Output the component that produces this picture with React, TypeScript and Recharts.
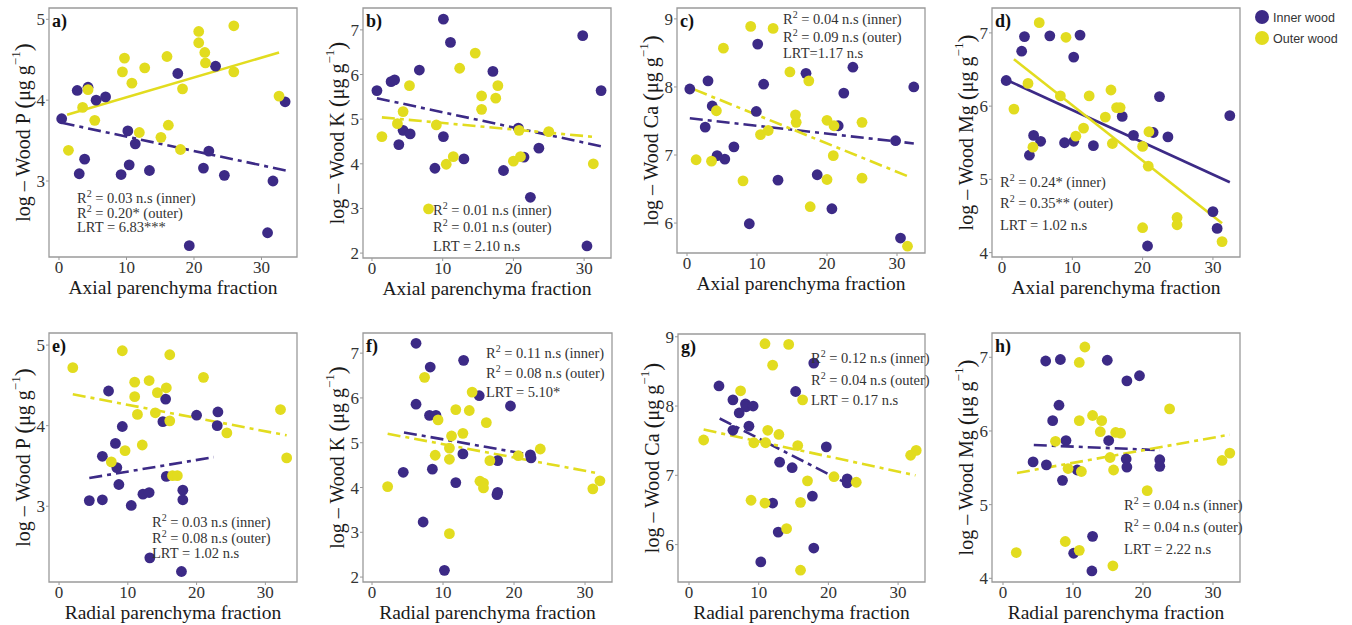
import React from 'react';
import { ScatterChart, Scatter, XAxis, YAxis, ReferenceLine, ReferenceArea } from 'recharts';

const INNER = '#3c2a86';
const OUTER = '#e2dc1f';
const SERIF = '"Liberation Serif", "Times New Roman", serif';
const SANS = '"Liberation Sans", Arial, sans-serif';
const DASHDOT = '13 5 4 5';

type Pair = [number, number];

// ---- axial parenchyma (top row) ----
const axialInnerP: Pair[] = [[0.4,3.77],[2.7,4.12],[4.3,4.16],[5.5,4.0],[6.9,4.04],[3.0,3.09],[3.8,3.27],[9.2,3.08],[10.4,3.2],[10.2,3.62],[11.3,3.46],[13.4,3.13],[17.6,4.33],[19.3,2.2],[21.4,3.16],[22.2,3.37],[23.2,4.42],[24.5,3.07],[30.9,2.36],[31.7,3.0],[33.5,3.98]];
const axialOuterP: Pair[] = [[1.4,3.38],[3.5,3.91],[4.3,4.13],[5.3,3.75],[9.7,4.52],[9.4,4.35],[10.8,4.21],[12.7,4.4],[11.9,3.6],[15.1,3.54],[16.2,3.69],[16.0,4.54],[18.3,4.14],[18.0,3.39],[20.7,4.85],[20.7,4.71],[21.6,4.59],[21.7,4.46],[25.9,4.92],[25.9,4.35],[32.6,4.05]];
const axialInnerPFit: Pair[] = [[0.4,3.72],[33.6,3.13]];
const axialOuterPFit: Pair[] = [[1.2,3.82],[32.6,4.59]];

const axialInnerK: Pair[] = [[0.7,5.64],[2.7,5.84],[3.2,5.88],[3.8,4.43],[4.4,4.75],[5.4,4.67],[6.7,6.1],[8.9,3.9],[10.1,4.61],[10.1,7.24],[11.1,6.72],[13.0,4.11],[17.1,6.07],[18.6,3.85],[20.7,4.8],[21.5,4.15],[22.4,3.25],[23.6,4.35],[29.8,6.87],[30.4,2.16],[32.4,5.64]];
const axialOuterK: Pair[] = [[1.4,4.61],[3.6,4.9],[4.4,5.17],[5.3,5.75],[9.1,4.87],[8.0,2.99],[10.5,3.99],[11.5,4.16],[12.4,6.14],[14.6,6.48],[15.5,5.52],[15.5,5.22],[17.5,5.47],[17.8,5.75],[20.0,4.06],[21.0,4.16],[20.8,4.75],[25.0,4.72],[31.3,4.0]];
const axialInnerKFit: Pair[] = [[0.7,5.47],[32.5,4.39]];
const axialOuterKFit: Pair[] = [[1.4,5.04],[31.6,4.6]];

const axialInnerCa: Pair[] = [[0.4,7.97],[3.0,8.09],[2.6,7.41],[3.6,7.72],[4.3,6.99],[5.4,6.94],[6.7,7.12],[8.9,5.99],[9.9,7.64],[10.1,8.63],[10.95,8.04],[13.0,6.63],[17.0,8.2],[18.6,6.71],[20.7,6.21],[21.6,7.43],[22.4,7.91],[23.7,8.29],[29.8,7.21],[30.5,5.78],[32.4,8.0]];
const axialOuterCa: Pair[] = [[1.3,6.93],[3.5,6.91],[4.2,7.65],[5.2,8.57],[8.0,6.62],[9.1,8.89],[12.3,8.86],[10.5,7.3],[11.6,7.36],[14.7,8.22],[15.5,7.59],[15.6,7.48],[17.4,8.09],[17.6,6.24],[20.0,7.51],[20.0,6.64],[20.9,6.99],[21.0,7.43],[25.0,7.48],[25.0,6.66],[31.5,5.66]];
const axialInnerCaFit: Pair[] = [[0.4,7.54],[32.4,7.17]];
const axialOuterCaFit: Pair[] = [[1.1,7.96],[31.5,6.69]];

const axialInnerMg: Pair[] = [[0.6,6.35],[2.8,6.75],[3.2,6.95],[3.9,5.33],[4.5,5.6],[5.5,5.52],[6.8,6.96],[8.9,5.5],[10.2,5.52],[10.2,6.67],[11.1,6.97],[13.0,5.46],[17.1,5.86],[18.7,5.6],[22.4,6.13],[21.5,5.64],[23.6,5.58],[20.7,4.09],[30.0,4.56],[30.6,4.33],[32.4,5.87]];
const axialOuterMg: Pair[] = [[1.7,5.96],[3.7,6.31],[4.4,5.44],[5.3,7.14],[8.3,6.14],[9.1,6.94],[10.5,5.59],[11.6,5.7],[12.4,6.14],[14.7,5.85],[15.5,6.22],[15.7,5.49],[16.3,5.98],[16.8,5.98],[20.0,5.45],[20.9,5.65],[20.8,5.18],[20.0,4.34],[24.9,4.48],[24.9,4.38],[31.3,4.15]];
const axialInnerMgFit: Pair[] = [[0.6,6.36],[32.4,4.96]];
const axialOuterMgFit: Pair[] = [[1.7,6.64],[31.3,4.4]];

// ---- radial parenchyma (bottom row) ----
const radialInnerP: Pair[] = [[4.4,3.07],[6.3,3.08],[6.3,3.62],[7.2,4.43],[8.2,3.78],[8.4,3.48],[8.7,3.27],[9.2,3.99],[10.5,3.01],[12.2,3.15],[13.1,3.17],[13.2,2.36],[15.1,4.05],[15.5,4.33],[15.6,3.37],[18.0,3.2],[18.0,3.08],[17.8,2.19],[20.0,4.13],[23.1,4.17],[23.0,4.0]];
const radialOuterP: Pair[] = [[2.0,4.72],[7.6,3.55],[9.2,4.93],[9.6,3.69],[11.0,4.54],[11.0,4.36],[11.4,4.14],[12.1,3.76],[13.1,4.56],[14.3,4.41],[14.0,4.16],[15.6,4.47],[16.1,4.88],[16.1,4.06],[16.5,3.38],[17.2,3.38],[21.0,4.6],[24.4,3.91],[32.2,4.2],[33.1,3.6]];
const radialInnerPFit: Pair[] = [[4.4,3.35],[22.5,3.61]];
const radialOuterPFit: Pair[] = [[2.0,4.39],[33.1,3.88]];

const radialInnerK: Pair[] = [[4.4,4.34],[6.2,7.22],[6.2,5.86],[7.2,3.23],[8.2,6.69],[8.1,5.61],[9.0,5.61],[8.5,4.41],[10.2,2.15],[11.8,4.11],[12.8,4.75],[12.9,6.84],[15.1,6.05],[17.6,3.84],[17.7,3.89],[17.7,4.6],[19.5,5.82],[22.3,4.73],[22.4,4.66]];
const radialOuterK: Pair[] = [[2.2,4.02],[7.4,6.46],[8.9,4.72],[9.3,5.51],[10.9,4.63],[10.9,4.88],[10.9,2.97],[11.2,5.15],[11.8,5.74],[12.8,5.21],[13.7,5.72],[14.1,6.13],[15.2,4.14],[15.7,4.1],[15.7,3.99],[16.1,5.45],[16.6,4.6],[20.6,4.71],[23.7,4.86],[31.1,3.97],[32.1,4.15]];
const radialInnerKFit: Pair[] = [[4.5,5.23],[22.3,4.73]];
const radialOuterKFit: Pair[] = [[2.2,5.2],[32.1,4.31]];

const radialInnerCa: Pair[] = [[4.3,8.29],[6.3,8.09],[6.3,7.65],[7.2,7.9],[8.1,8.03],[8.2,7.99],[9.2,8.0],[8.6,7.71],[10.3,5.75],[12.0,6.6],[12.8,6.18],[13.0,7.19],[14.8,7.11],[15.3,8.21],[17.9,8.62],[17.7,6.7],[17.9,5.95],[19.7,7.41],[22.7,6.95],[22.7,6.89]];
const radialOuterCa: Pair[] = [[2.1,7.51],[7.4,8.22],[8.9,6.64],[9.3,7.47],[10.9,8.9],[10.9,6.6],[11.0,7.47],[11.3,7.65],[12.0,8.59],[12.9,7.59],[14.0,6.23],[14.3,8.89],[15.6,7.43],[16.0,6.61],[16.0,5.63],[16.3,8.09],[17.0,6.92],[20.8,6.98],[24.0,6.9],[31.8,7.29],[32.6,7.36]];
const radialInnerCaFit: Pair[] = [[4.4,7.82],[22.7,6.88]];
const radialOuterCaFit: Pair[] = [[2.1,7.66],[32.5,7.0]];

const radialInnerMg: Pair[] = [[4.3,5.58],[6.1,6.95],[6.2,5.54],[7.1,6.14],[8.0,6.35],[8.2,6.97],[8.5,5.33],[9.0,5.87],[10.1,4.34],[10.6,5.47],[12.8,4.57],[12.7,4.1],[14.9,6.96],[15.1,5.87],[17.7,6.68],[17.6,5.62],[17.7,5.51],[19.5,6.75],[22.4,5.61],[22.4,5.52]];
const radialOuterMg: Pair[] = [[1.9,4.35],[7.5,5.86],[8.9,4.5],[9.3,5.49],[10.9,6.93],[10.9,6.14],[10.9,4.38],[11.2,5.45],[11.7,7.14],[12.8,6.21],[13.9,5.99],[14.1,6.14],[15.3,5.64],[15.7,4.17],[15.8,5.47],[16.1,5.98],[16.8,5.97],[20.6,5.19],[23.8,6.3],[31.3,5.6],[32.4,5.7]];
const radialInnerMgFit: Pair[] = [[4.4,5.81],[22.4,5.74]];
const radialOuterMgFit: Pair[] = [[2.0,5.43],[32.4,5.95]];

const xTicks = [0, 10, 20, 30];

const pts = (a: Pair[]) => a.map(([x, y]) => ({ x, y }));

interface PanelSpec {
  letter: string;
  element: string;
  xTitle: string;
  frame: { l: number; t: number; r: number; b: number };
  xDomain: [number, number];
  yDomain: [number, number];
  yTicks: number[];
  inner: Pair[];
  outer: Pair[];
  innerFit: Pair[];
  outerFit: Pair[];
  innerDash?: string;
  outerDash?: string;
  stats: string[];
  lrt: string;
  noteX: number;
  noteY: number[];
}

const panels: PanelSpec[] = [
  { letter: 'a)', element: 'P', xTitle: 'Axial parenchyma fraction', frame: { l: 49, t: 8, r: 297, b: 257 },
    xDomain: [-1.48, 35.26], yDomain: [2.06, 5.14], yTicks: [3, 4, 5],
    inner: axialInnerP, outer: axialOuterP, innerFit: axialInnerPFit, outerFit: axialOuterPFit,
    innerDash: DASHDOT, stats: ['0.03 n.s (inner)', '0.20* (outer)'], lrt: 'LRT = 6.83***', noteX: 77, noteY: [203, 218, 232] },
  { letter: 'b)', element: 'K', xTitle: 'Axial parenchyma fraction', frame: { l: 363, t: 8, r: 611, b: 258 },
    xDomain: [-1.27, 33.8], yDomain: [1.89, 7.49], yTicks: [2, 3, 4, 5, 6, 7],
    inner: axialInnerK, outer: axialOuterK, innerFit: axialInnerKFit, outerFit: axialOuterKFit,
    innerDash: DASHDOT, outerDash: DASHDOT, stats: ['0.01 n.s (inner)', '0.01 n.s (outer)'], lrt: 'LRT = 2.10 n.s', noteX: 433, noteY: [215, 232, 251] },
  { letter: 'c)', element: 'Ca', xTitle: 'Axial parenchyma fraction', frame: { l: 677, t: 8, r: 925, b: 253 },
    xDomain: [-1.43, 34.0], yDomain: [5.56, 9.16], yTicks: [6, 7, 8, 9],
    inner: axialInnerCa, outer: axialOuterCa, innerFit: axialInnerCaFit, outerFit: axialOuterCaFit,
    innerDash: DASHDOT, outerDash: DASHDOT, stats: ['0.04 n.s (inner)', '0.09 n.s (outer)'], lrt: 'LRT=1.17 n.s', noteX: 783, noteY: [24, 42, 58] },
  { letter: 'd)', element: 'Mg', xTitle: 'Axial parenchyma fraction', frame: { l: 992, t: 8, r: 1240, b: 257 },
    xDomain: [-1.42, 33.85], yDomain: [3.94, 7.34], yTicks: [4, 5, 6, 7],
    inner: axialInnerMg, outer: axialOuterMg, innerFit: axialInnerMgFit, outerFit: axialOuterMgFit,
    stats: ['0.24* (inner)', '0.35** (outer)'], lrt: 'LRT = 1.02 n.s', noteX: 1000, noteY: [187, 208, 230] },
  { letter: 'e)', element: 'P', xTitle: 'Radial parenchyma fraction', frame: { l: 49, t: 333, r: 297, b: 582 },
    xDomain: [-1.46, 34.6], yDomain: [2.06, 5.15], yTicks: [3, 4, 5],
    inner: radialInnerP, outer: radialOuterP, innerFit: radialInnerPFit, outerFit: radialOuterPFit,
    innerDash: DASHDOT, outerDash: DASHDOT, stats: ['0.03 n.s (inner)', '0.08 n.s (outer)'], lrt: 'LRT = 1.02 n.s', noteX: 152, noteY: [527, 543, 558] },
  { letter: 'f)', element: 'K', xTitle: 'Radial parenchyma fraction', frame: { l: 363, t: 333, r: 612, b: 582 },
    xDomain: [-1.27, 33.8], yDomain: [1.89, 7.45], yTicks: [2, 3, 4, 5, 6, 7],
    inner: radialInnerK, outer: radialOuterK, innerFit: radialInnerKFit, outerFit: radialOuterKFit,
    innerDash: DASHDOT, outerDash: DASHDOT, stats: ['0.11 n.s (inner)', '0.08 n.s (outer)'], lrt: 'LRT = 5.10*', noteX: 486, noteY: [358, 378, 397] },
  { letter: 'g)', element: 'Ca', xTitle: 'Radial parenchyma fraction', frame: { l: 678, t: 334, r: 925, b: 582 },
    xDomain: [-1.58, 33.86], yDomain: [5.46, 9.04], yTicks: [6, 7, 8, 9],
    inner: radialInnerCa, outer: radialOuterCa, innerFit: radialInnerCaFit, outerFit: radialOuterCaFit,
    innerDash: DASHDOT, outerDash: DASHDOT, stats: ['0.12 n.s (inner)', '0.04 n.s (outer)'], lrt: 'LRT = 0.17 n.s', noteX: 811, noteY: [363, 385, 405] },
  { letter: 'h)', element: 'Mg', xTitle: 'Radial parenchyma fraction', frame: { l: 992, t: 333, r: 1240, b: 582 },
    xDomain: [-1.57, 33.86], yDomain: [3.95, 7.33], yTicks: [4, 5, 6, 7],
    inner: radialInnerMg, outer: radialOuterMg, innerFit: radialInnerMgFit, outerFit: radialOuterMgFit,
    innerDash: DASHDOT, outerDash: DASHDOT, stats: ['0.04 n.s (inner)', '0.04 n.s (outer)'], lrt: 'LRT = 2.22 n.s', noteX: 1124, noteY: [510, 532, 554] },
];

const LEFT_PAD = 60;
const TOP_PAD = 8;
const RIGHT_PAD = 10;
const BOTTOM_PAD = 45;

const dot = (color: string) => (props: any) =>
  props.cx == null ? <g /> : <circle cx={props.cx} cy={props.cy} r={5.4} fill={color} />;

function Panel({ p }: { p: PanelSpec }) {
  const { l, t, r, b } = p.frame;
  const w = r - l + LEFT_PAD + RIGHT_PAD;
  const h = b - t + TOP_PAD + BOTTOM_PAD;
  const [ia, ib] = p.innerFit.map(([x, y]) => ({ x, y }));
  const [oa, ob] = p.outerFit.map(([x, y]) => ({ x, y }));

  const yLabel = (props: any) => {
    const vb = props.viewBox;
    const cx = vb.x + vb.width - 26;
    const cy = vb.y + vb.height / 2;
    return (
      <text transform={`translate(${cx},${cy}) rotate(-90)`} textAnchor="middle" dominantBaseline="central"
        fontFamily={SERIF} fontSize={20} fill="#1a1a1a">
        log – Wood {p.element} <tspan fontSize={24}>(</tspan>μg g<tspan fontSize={13} dy={-8}>−1</tspan>
        <tspan fontSize={24} dy={8}>)</tspan>
      </text>
    );
  };
  const xLabel = (props: any) => {
    const vb = props.viewBox;
    return (
      <text x={vb.x + vb.width / 2} y={vb.y + 37} textAnchor="middle" fontFamily={SERIF} fontSize={19.5} fill="#1a1a1a">
        {p.xTitle}
      </text>
    );
  };

  return (
    <div style={{ position: 'absolute', left: l - LEFT_PAD, top: t - TOP_PAD }}>
      <ScatterChart width={w} height={h} margin={{ top: TOP_PAD, right: RIGHT_PAD, bottom: 0, left: 0 }}>
        <XAxis type="number" dataKey="x" domain={p.xDomain} ticks={xTicks} allowDataOverflow axisLine={false}
          height={BOTTOM_PAD} tickSize={3} tickMargin={1} tickLine={{ stroke: '#999' }}
          tick={{ fontFamily: SERIF, fontSize: 17, fill: '#333' }} label={{ content: xLabel }} />
        <YAxis type="number" dataKey="y" domain={p.yDomain} ticks={p.yTicks} allowDataOverflow axisLine={false}
          width={LEFT_PAD} tickSize={3} tickMargin={1} tickLine={{ stroke: '#999' }}
          tick={{ fontFamily: SERIF, fontSize: 17, fill: '#333' }} label={{ content: yLabel }} />
        <ReferenceArea x1={p.xDomain[0]} x2={p.xDomain[1]} y1={p.yDomain[0]} y2={p.yDomain[1]}
          fill="none" fillOpacity={0} stroke="#9a9a9a" strokeWidth={1.3} ifOverflow="visible" />
        <Scatter data={pts(p.inner)} fill={INNER} shape={dot(INNER)} isAnimationActive={false} />
        <Scatter data={pts(p.outer)} fill={OUTER} shape={dot(OUTER)} isAnimationActive={false} />
        <ReferenceLine segment={[ia, ib]} stroke={INNER} strokeWidth={2.6} strokeDasharray={p.innerDash}
          ifOverflow="visible" />
        <ReferenceLine segment={[oa, ob]} stroke={OUTER} strokeWidth={2.6} strokeDasharray={p.outerDash}
          ifOverflow="visible" />
      </ScatterChart>
    </div>
  );
}

function Notes() {
  return (
    <svg width={1352} height={625} style={{ position: 'absolute', left: 0, top: 0, pointerEvents: 'none' }}>
      {panels.map((p) => (
        <g key={p.letter} fontFamily={SERIF} fill="#333">
          <text x={p.frame.l + 3} y={p.frame.t + 19} fontSize={18} fontWeight="bold" fill="#111">{p.letter}</text>
          {p.stats.map((s, i) => (
            <text key={i} x={p.noteX} y={p.noteY[i]} fontSize={14.5}>
              R<tspan fontSize={10} dy={-6}>2</tspan><tspan dy={6}> = {s}</tspan>
            </text>
          ))}
          <text x={p.noteX} y={p.noteY[2]} fontSize={14.5}>{p.lrt}</text>
        </g>
      ))}
      <g fontFamily={SANS} fontSize={12.5} fill="#333">
        <circle cx={1262} cy={17} r={7} fill={INNER} />
        <text x={1273} y={21.5}>Inner wood</text>
        <circle cx={1262} cy={38} r={7} fill={OUTER} />
        <text x={1273} y={42.5}>Outer wood</text>
      </g>
    </svg>
  );
}

export default function App() {
  return (
    <div style={{ position: 'absolute', left: 0, top: 0, width: 1352, height: 625, background: '#fff' }}>
      {panels.map((p) => <Panel key={p.letter} p={p} />)}
      <Notes />
    </div>
  );
}
